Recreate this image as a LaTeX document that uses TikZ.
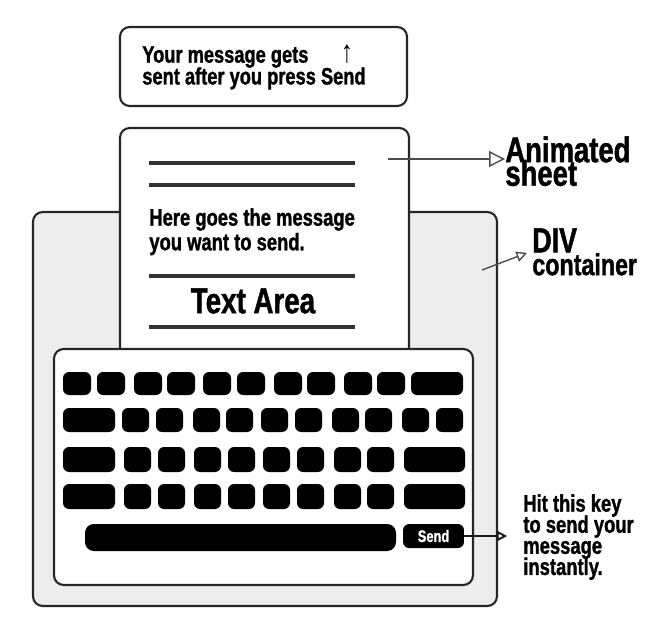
\documentclass[tikz,border=0pt]{standalone}
\usepackage{fontspec}
\setmainfont{Liberation Sans}[FakeStretch=0.77, BoldFeatures={FakeBold=1.2}]
\usetikzlibrary{arrows.meta}
\lineskiplimit=-20pt
\tikzset{
  panel/.style={draw=black!85, line width=1.2pt, rounded corners=5.5pt},
  keycap/.style={fill=black, rounded corners=3.5pt, inner sep=0pt},
  rule/.style={draw=black!80, line width=2.8pt},
  note/.style={font=\bfseries\fontsize{13.5}{12.4}\selectfont, align=left, inner sep=0pt, anchor=north west},
  pointer/.style={draw=black!70, line width=0.8pt, -{Triangle[open, length=#1, width=#1]}},
  pointer/.default=6pt
}
\begin{document}
\begin{tikzpicture}[x=0.02cm, y=-0.02cm]
    \useasboundingbox (0,0) rectangle (650,633);
    % DIV container
    \draw[panel, fill=black!7] (33,212) rectangle (497,606);
    % animated sheet
    \draw[panel, fill=white] (120,128) rectangle (409,365);
    \foreach \y in {163,185,276,327} \draw[rule] (149,\y) -- (355,\y);
    \node[note, font=\bfseries\fontsize{13.6}{14}\selectfont] (msg) at (149,208) {Here goes the message\\you want to send.};
    \node[font=\bfseries\fontsize{20.5}{20}\selectfont, inner sep=0pt] (area) at (253,301) {Text Area};
    % keyboard
    \draw[panel, fill=white] (54,349) rectangle (473,585);
    \foreach \x in {63,97,134,167,203,237,274,307,344,377} \fill[keycap] (\x,372) rectangle +(28,23);
    \fill[keycap] (411,372) rectangle (463,395);
    \fill[keycap] (63,408) rectangle (115,432);
    \foreach \x in {122,156,193,226,261,295,332,365,402,436} \fill[keycap] (\x,408) rectangle +(27,24);
    \foreach \y in {447,484} {
        \fill[keycap] (63,\y) rectangle +(52,25);
        \foreach \x in {124,158,194,228,263,297,334,367} \fill[keycap] (\x,\y) rectangle +(27,25);
        \fill[keycap] (404,\y) rectangle +(61,25);
    }
    \fill[keycap, rounded corners=5pt] (85,524) rectangle (396,551);
    \node[keycap, text=white, font=\bfseries\fontsize{9.5}{9}\selectfont, minimum width=1.22cm, minimum height=0.48cm] (send) at (433.5,536) {Send};
    % top box
    \draw[panel, fill=white] (120,27) rectangle (407,106);
    \node[note] (hint) at (142,46) {Your message gets\\sent after you press Send};
    \node[font=\fontsize{18}{18}\selectfont, inner sep=0pt] (up) at (347,54) {↑};
    % labels
    \node[note, font=\bfseries\fontsize{20.3}{13.4}\selectfont] (sheetlbl) at (505,136) {Animated\\sheet};
    \node[note, font=\bfseries\fontsize{17.2}{13}\selectfont] (divlbl) at (532,228) {{\fontsize{19.8}{13}\selectfont DIV}\\container};
    \node[note, font=\bfseries\fontsize{13.6}{12}\selectfont] (hitlbl) at (523,494) {Hit this key\\to send your\\message\\instantly.};
    \coordinate (sheetpt) at (388,159);
    \coordinate (divpt) at (482,270);
    \draw[pointer=9pt] (sheetpt) -- (sheetpt -| sheetlbl.west);
    \draw[pointer] (divpt) -- ([shift={(-5,1)}]divlbl.west);
    \draw[pointer, draw=black!90, line width=1.1pt] (send.east) -- ([xshift=-9]send.east -| hitlbl.west);
\end{tikzpicture}
\end{document}
